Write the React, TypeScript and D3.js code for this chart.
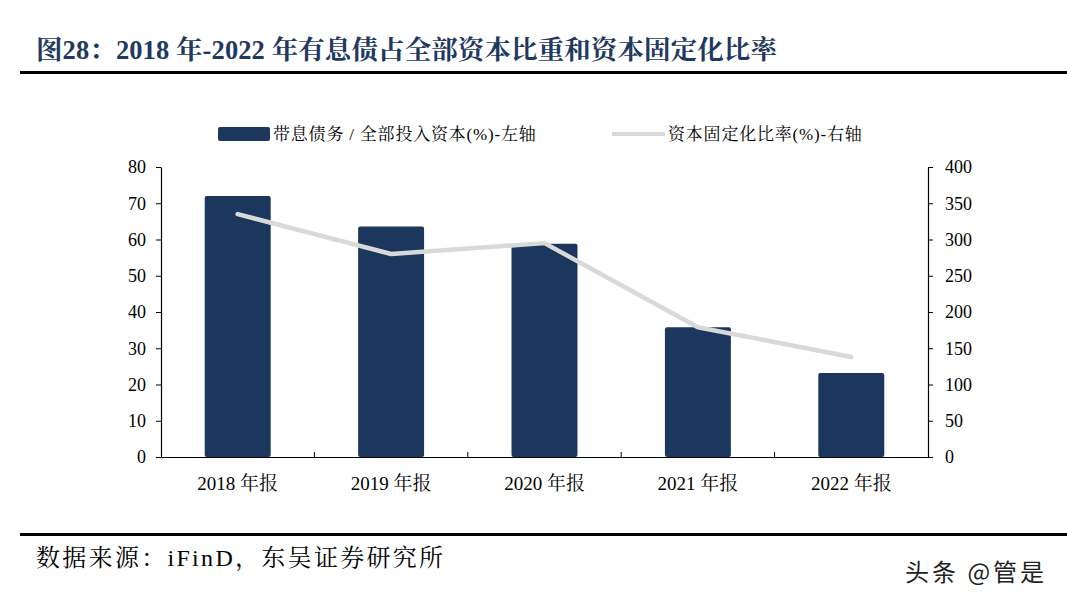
import { useEffect, useRef } from "react";
import * as d3 from "d3";

const categories = ["2018 年报", "2019 年报", "2020 年报", "2021 年报", "2022 年报"];
const debtRatio = [72.0, 63.6, 58.8, 35.8, 23.2];
const fixedRatio = [335, 280, 295, 179, 138];
const leftTicks = [0, 10, 20, 30, 40, 50, 60, 70, 80];
const rightTicks = [0, 50, 100, 150, 200, 250, 300, 350, 400];

const barLabel = "带息债务 / 全部投入资本(%)-左轴";
const lineLabel = "资本固定化比率(%)-右轴";
const title = "图28：2018 年-2022 年有息债占全部资本比重和资本固定化比率";
const source = "数据来源：iFinD，东吴证券研究所";

const W = 1067;
const H = 600;
const SERIF = "'Liberation Serif', 'Times New Roman', 'Noto Serif CJK SC', 'Noto Sans CJK SC', serif";
const NAVY = "#1b375d";
const GREY = "#d9d9d9";

export default function App() {
  const svgRef = useRef<SVGSVGElement>(null);

  useEffect(() => {
    if (!svgRef.current) return;
    const svg = d3.select(svgRef.current);
    svg.selectAll("*").remove();

    const margin = { left: 161, right: W - 928, top: 167, bottom: H - 457 };

    const x = d3.scaleBand<string>()
      .domain(categories)
      .range([margin.left, W - margin.right])
      .paddingInner(0.57)
      .paddingOuter(0.285);
    const band = d3.scaleBand<string>()
      .domain(categories)
      .range([margin.left, W - margin.right]);
    const yL = d3.scaleLinear().domain([0, 80]).range([H - margin.bottom, margin.top]);
    const yR = d3.scaleLinear().domain([0, 400]).range([H - margin.bottom, margin.top]);

    // Title
    svg.append("text")
      .attr("x", 36)
      .attr("y", 59)
      .attr("font-family", SERIF)
      .attr("font-weight", "bold")
      .attr("font-size", 26.5)
      .attr("letter-spacing", 0.1)
      .attr("fill", "#1f3a5f")
      .text(title);

    svg.append("rect").attr("x", 20).attr("y", 71).attr("width", W - 20).attr("height", 3).attr("fill", "#000");
    svg.append("rect").attr("x", 20).attr("y", 533).attr("width", W - 20).attr("height", 3).attr("fill", "#000");

    // Legend
    svg.append("rect").attr("x", 218).attr("y", 127).attr("width", 52).attr("height", 14).attr("rx", 2).attr("fill", NAVY);
    svg.append("text").attr("x", 273).attr("y", 140).attr("font-family", SERIF).attr("font-size", 17)
      .attr("letter-spacing", 0.8).text(barLabel);
    svg.append("line").attr("x1", 612).attr("x2", 665).attr("y1", 134).attr("y2", 134)
      .attr("stroke", GREY).attr("stroke-width", 4);
    svg.append("text").attr("x", 668).attr("y", 140).attr("font-family", SERIF).attr("font-size", 17)
      .attr("letter-spacing", 0.8).text(lineLabel);

    // Bars
    svg.append("g")
      .selectAll("rect")
      .data(debtRatio)
      .join("rect")
      .attr("x", (_d, i) => x(categories[i])!)
      .attr("width", x.bandwidth())
      .attr("y", (d) => yL(d))
      .attr("height", (d) => yL(0) - yL(d))
      .attr("rx", 2)
      .attr("fill", NAVY);

    // Line
    const line = d3.line<number>()
      .x((_d, i) => band(categories[i])! + band.bandwidth() / 2)
      .y((d) => yR(d));
    svg.append("path")
      .datum(fixedRatio)
      .attr("d", line)
      .attr("fill", "none")
      .attr("stroke", GREY)
      .attr("stroke-width", 4.5)
      .attr("stroke-linejoin", "round")
      .attr("stroke-linecap", "round");

    // Axes
    const left = svg.append("g")
      .attr("transform", `translate(${margin.left},0)`)
      .call(d3.axisLeft(yL).tickValues(leftTicks).tickSize(5).tickPadding(10).tickSizeOuter(0));
    const right = svg.append("g")
      .attr("transform", `translate(${W - margin.right},0)`)
      .call(d3.axisRight(yR).tickValues(rightTicks).tickSize(5).tickPadding(12).tickSizeOuter(0));
    const bottom = svg.append("g")
      .attr("transform", `translate(0,${H - margin.bottom})`)
      .call(d3.axisBottom(band).tickSize(0).tickPadding(20).tickSizeOuter(0));

    // category boundary ticks pointing up
    bottom.selectAll(".sep")
      .data(categories.slice(1))
      .join("line")
      .attr("class", "sep")
      .attr("x1", (d) => band(d)!)
      .attr("x2", (d) => band(d)!)
      .attr("y1", 0)
      .attr("y2", -5)
      .attr("stroke", "#000");

    [left, right, bottom].forEach((g) => {
      g.attr("font-family", SERIF);
      g.selectAll("path").attr("stroke", "#000").attr("stroke-width", 1.2);
      g.selectAll(".tick line").attr("stroke", "#000");
      g.selectAll("text")
        .attr("font-family", SERIF)
        .attr("font-size", 18)
        .attr("fill", "#000");
    });
    bottom.selectAll("text").attr("font-size", 19);

    // Footer
    svg.append("text").attr("x", 36).attr("y", 566).attr("font-family", SERIF).attr("font-size", 24)
      .attr("letter-spacing", 2.3).text(source);
    svg.append("text").attr("x", 905).attr("y", 581)
      .attr("font-family", "'Noto Sans CJK SC', sans-serif")
      .attr("font-size", 24)
      .attr("letter-spacing", 3)
      .attr("fill", "#222")
      .text("头条 @管是");
  }, []);

  return (
    <div style={{ position: "absolute", left: 0, top: 0 }}>
      <svg ref={svgRef} width={W} height={H} style={{ display: "block", background: "#fff" }} />
    </div>
  );
}
